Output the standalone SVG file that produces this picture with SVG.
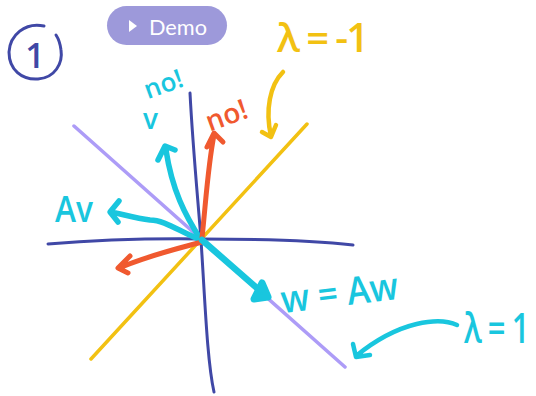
<svg xmlns="http://www.w3.org/2000/svg" width="536" height="396" viewBox="0 0 536 396">
<style>
.s{fill:none;stroke-linecap:round;stroke-linejoin:round}
.ax{stroke:#4048A6;stroke-width:3}
.pu{stroke:#AD9CF7;stroke-width:3.5}
.ye{stroke:#F2C112;stroke-width:3.5}
.cy{stroke:#19C6DE;stroke-width:5.5}
.or{stroke:#F0592F;stroke-width:5}
.hand{font-family:"Open Sans","Liberation Sans",sans-serif;font-weight:600}
</style>
<rect width="536" height="396" fill="#fff"/>
<g id="connectors">
  <path class="s pu" d="M74,126 L345,367"/>
  <path class="s ye" d="M91,359 L307,124"/>
  <path class="s ax" d="M190,93 C193,150 198,200 201,240 C205,300 207,360 214,392"/>
  <path class="s ax" d="M48,244 Q120,238 202,239 Q300,239 353,245"/>
  <path class="s cy" d="M201,240 C185,215 172,190 166,150 M158,160 L165,146 L175,150"/>
  <path class="s cy" d="M201,240 C180,232 165,220 150,220 C135,218 122,214 111,212 M119,201 L110,212 L118,222"/>
  <path class="s or" d="M202,238 C206,200 208,165 214,135 M207,147 L214,133 L223,142"/>
  <path class="s or" d="M202,242 C180,248 150,255 119,268 M130,256 L118,268 L128,273"/>
  <path class="s cy" d="M202,240 L266,296" style="stroke-width:6.5"/>
  <path class="s cy" d="M262,283 L268,297 L254,299 Z" style="stroke-width:7;fill:#19C6DE"/>
  <path class="s cy" d="M457,325 C440,317 400,320 356,356 M353,344 L356,357 L370,355" style="stroke-width:4.5"/>
  <path class="s ye" d="M283,72 C270,85 265,110 271,136 M262,132 L271,137 L276,125" style="stroke-width:4.5"/>
</g>
<g id="circle-1">
  <path class="s" d="M44,26 C25,22 10,35 9,52 C9,70 22,80 38,79 C55,78 63,63 61,50 C60,42 58,38 56,35" stroke="#4048A6" stroke-width="3"/>
  <text class="hand" x="35" y="68" font-size="34" fill="#4048A6" text-anchor="middle">1</text>
</g>
<g id="demo">
  <rect x="107" y="6" width="120" height="39" rx="19.5" fill="#9D99DA"/>
  <path d="M129,20 L137,26 L129,32 Z" fill="#fff"/>
  <text x="149" y="35" font-family="Lato,'Open Sans','Liberation Sans',sans-serif" font-size="21" fill="#fff" textLength="58" lengthAdjust="spacingAndGlyphs">Demo</text>
</g>
<g id="lambda-neg1">
  <text class="hand" x="277" y="52" font-size="40" fill="#F2C112" textLength="92" lengthAdjust="spacing">λ = -1</text>
</g>
<g id="no-cyan">
  <text class="hand" x="142" y="94" font-size="26" fill="#19C6DE" transform="rotate(-20 160 80)">no!</text>
</g>
<g id="v-label">
  <text class="hand" x="143" y="129" font-size="28" fill="#19C6DE">v</text>
</g>
<g id="no-orange">
  <text class="hand" x="203" y="127" font-size="28" fill="#F0592F" transform="rotate(-20 220 110)">no!</text>
</g>
<g id="av-label">
  <text class="hand" x="55" y="222" font-size="36" fill="#19C6DE" textLength="38" lengthAdjust="spacingAndGlyphs">Av</text>
</g>
<g id="w-label">
  <text class="hand" x="280" y="306" font-size="38" fill="#19C6DE" textLength="118" lengthAdjust="spacingAndGlyphs" transform="rotate(-7 340 290)">w = Aw</text>
</g>
<g id="lambda-1">
  <text class="hand" x="0" y="0" font-size="31" fill="#19C6DE" letter-spacing="-1" transform="translate(464,343) scale(1,1.35)">λ = 1</text>
</g>
</svg>
